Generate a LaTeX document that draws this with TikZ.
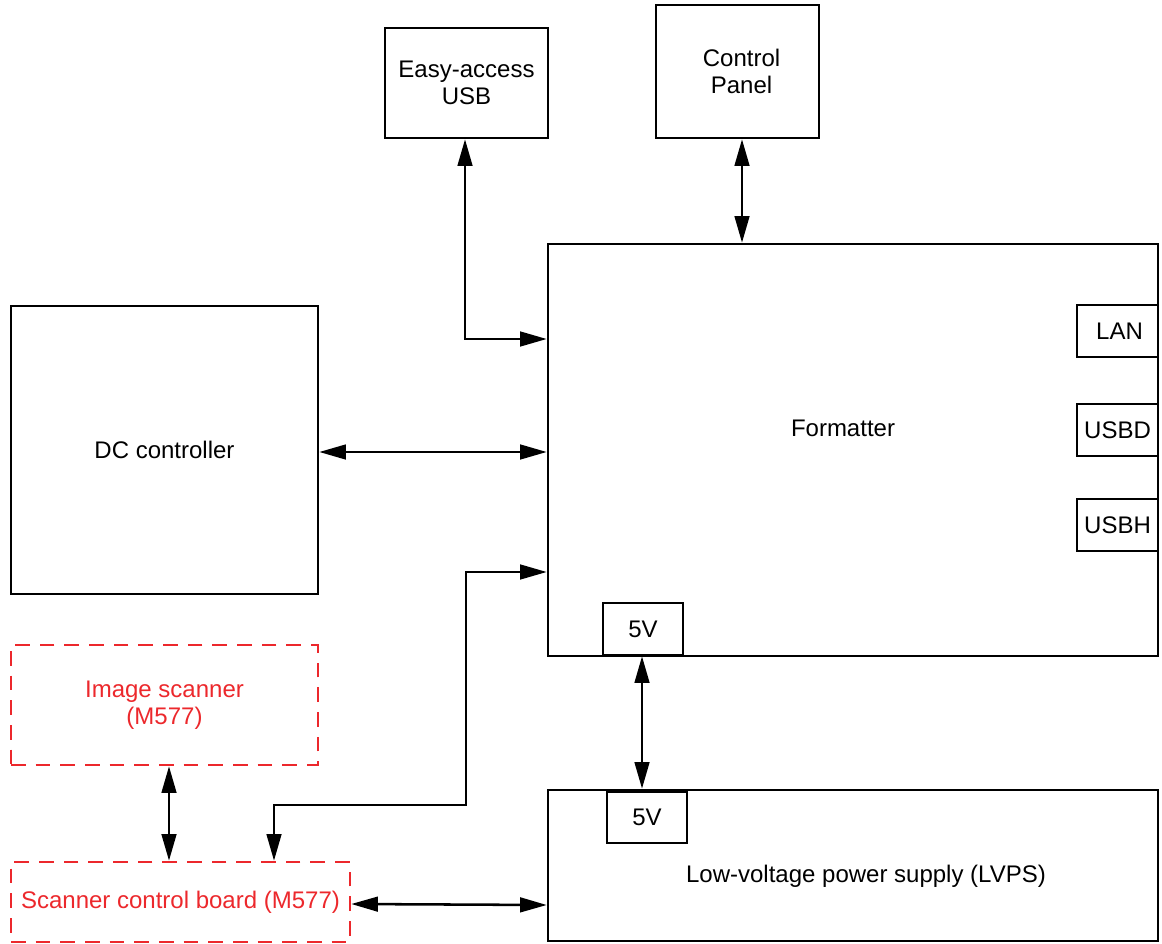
\documentclass[tikz,border=0pt]{standalone}
\usepackage{fontspec}
\setmainfont{Liberation Sans}
\usetikzlibrary{arrows.meta}
\definecolor{scanred}{RGB}{236,40,44}
\begin{document}
\begin{tikzpicture}[x=0.75pt,y=-0.75pt,
  box/.style={draw,line width=1.9pt,inner sep=0pt,align=center,font=\fontsize{18}{20.5}\selectfont},
  dbox/.style={box,draw=scanred,text=scanred,dash pattern=on 11pt off 7.5pt},
  lbl/.style={inner sep=0pt,align=center,font=\fontsize{18}{20.5}\selectfont},
  conn/.style={line width=1.9pt,{Triangle[length=20pt,width=11pt]}-{Triangle[length=20pt,width=11pt]}}]
\useasboundingbox (0,0) rectangle (1162,944);
% boxes
\node[box,minimum width=122.25pt,minimum height=82.5pt] (eusb) at (466.5,83) {Easy-access\\USB};
\node[box,minimum width=122.25pt,minimum height=99.75pt] (cpanel) at (737.5,71.5) {\hspace*{6pt}Control\\\hspace*{6pt}Panel};
\node[box,minimum width=457.5pt,minimum height=309pt] (fmt) at (853,450) {};
\node[lbl] (fmtlabel) at (843,428) {Formatter};
\node[box,minimum width=60.75pt,minimum height=39pt] (lan) at (1117.5,331) {\hspace*{3pt}LAN};
\node[box,minimum width=60.75pt,minimum height=39pt] (usbd) at (1117.5,430) {USBD};
\node[box,minimum width=60.75pt,minimum height=39pt] (usbh) at (1117.5,525) {USBH};
\node[box,minimum width=60pt,minimum height=39pt] (fivea) at (643,629) {5V};
\node[box,minimum width=230.25pt,minimum height=216pt] (dc) at (164.5,450) {DC controller};
\node[dbox,minimum width=230.25pt,minimum height=90pt] (imgscan) at (164.5,705) {Image scanner\\(M577)};
\node[dbox,minimum width=254.25pt,minimum height=60pt] (scb) at (180.5,902) {Scanner control board (M577)};
\node[box,minimum width=457.5pt,minimum height=113.25pt] (lvps) at (853,865.5) {};
\node[lbl] (lvpslabel) at (866,876) {Low-voltage power supply (LVPS)};
\node[box,minimum width=60pt,minimum height=38.25pt] (fiveb) at (647,817.5) {5V};
% connectors
\draw[conn] (eusb.south -| 465,0) |- (fmt.west |- 0,339);
\draw[conn] (cpanel.south -| 742,0) -- (fmt.north -| 742,0);
\draw[conn] (dc.east |- 0,452) -- (fmt.west |- 0,452);
\coordinate (bend1) at (466,805);
\draw[conn] (scb.north -| 274,0) |- (bend1) |- (fmt.west |- 0,572);
\draw[conn] (imgscan.south -| 169,0) -- (scb.north -| 169,0);
\draw[conn] (fivea.south -| 642,0) -- (lvps.north -| 642,0);
\draw[conn] (scb.east |- 0,904) -- (lvps.west |- 0,905);
\end{tikzpicture}
\end{document}
